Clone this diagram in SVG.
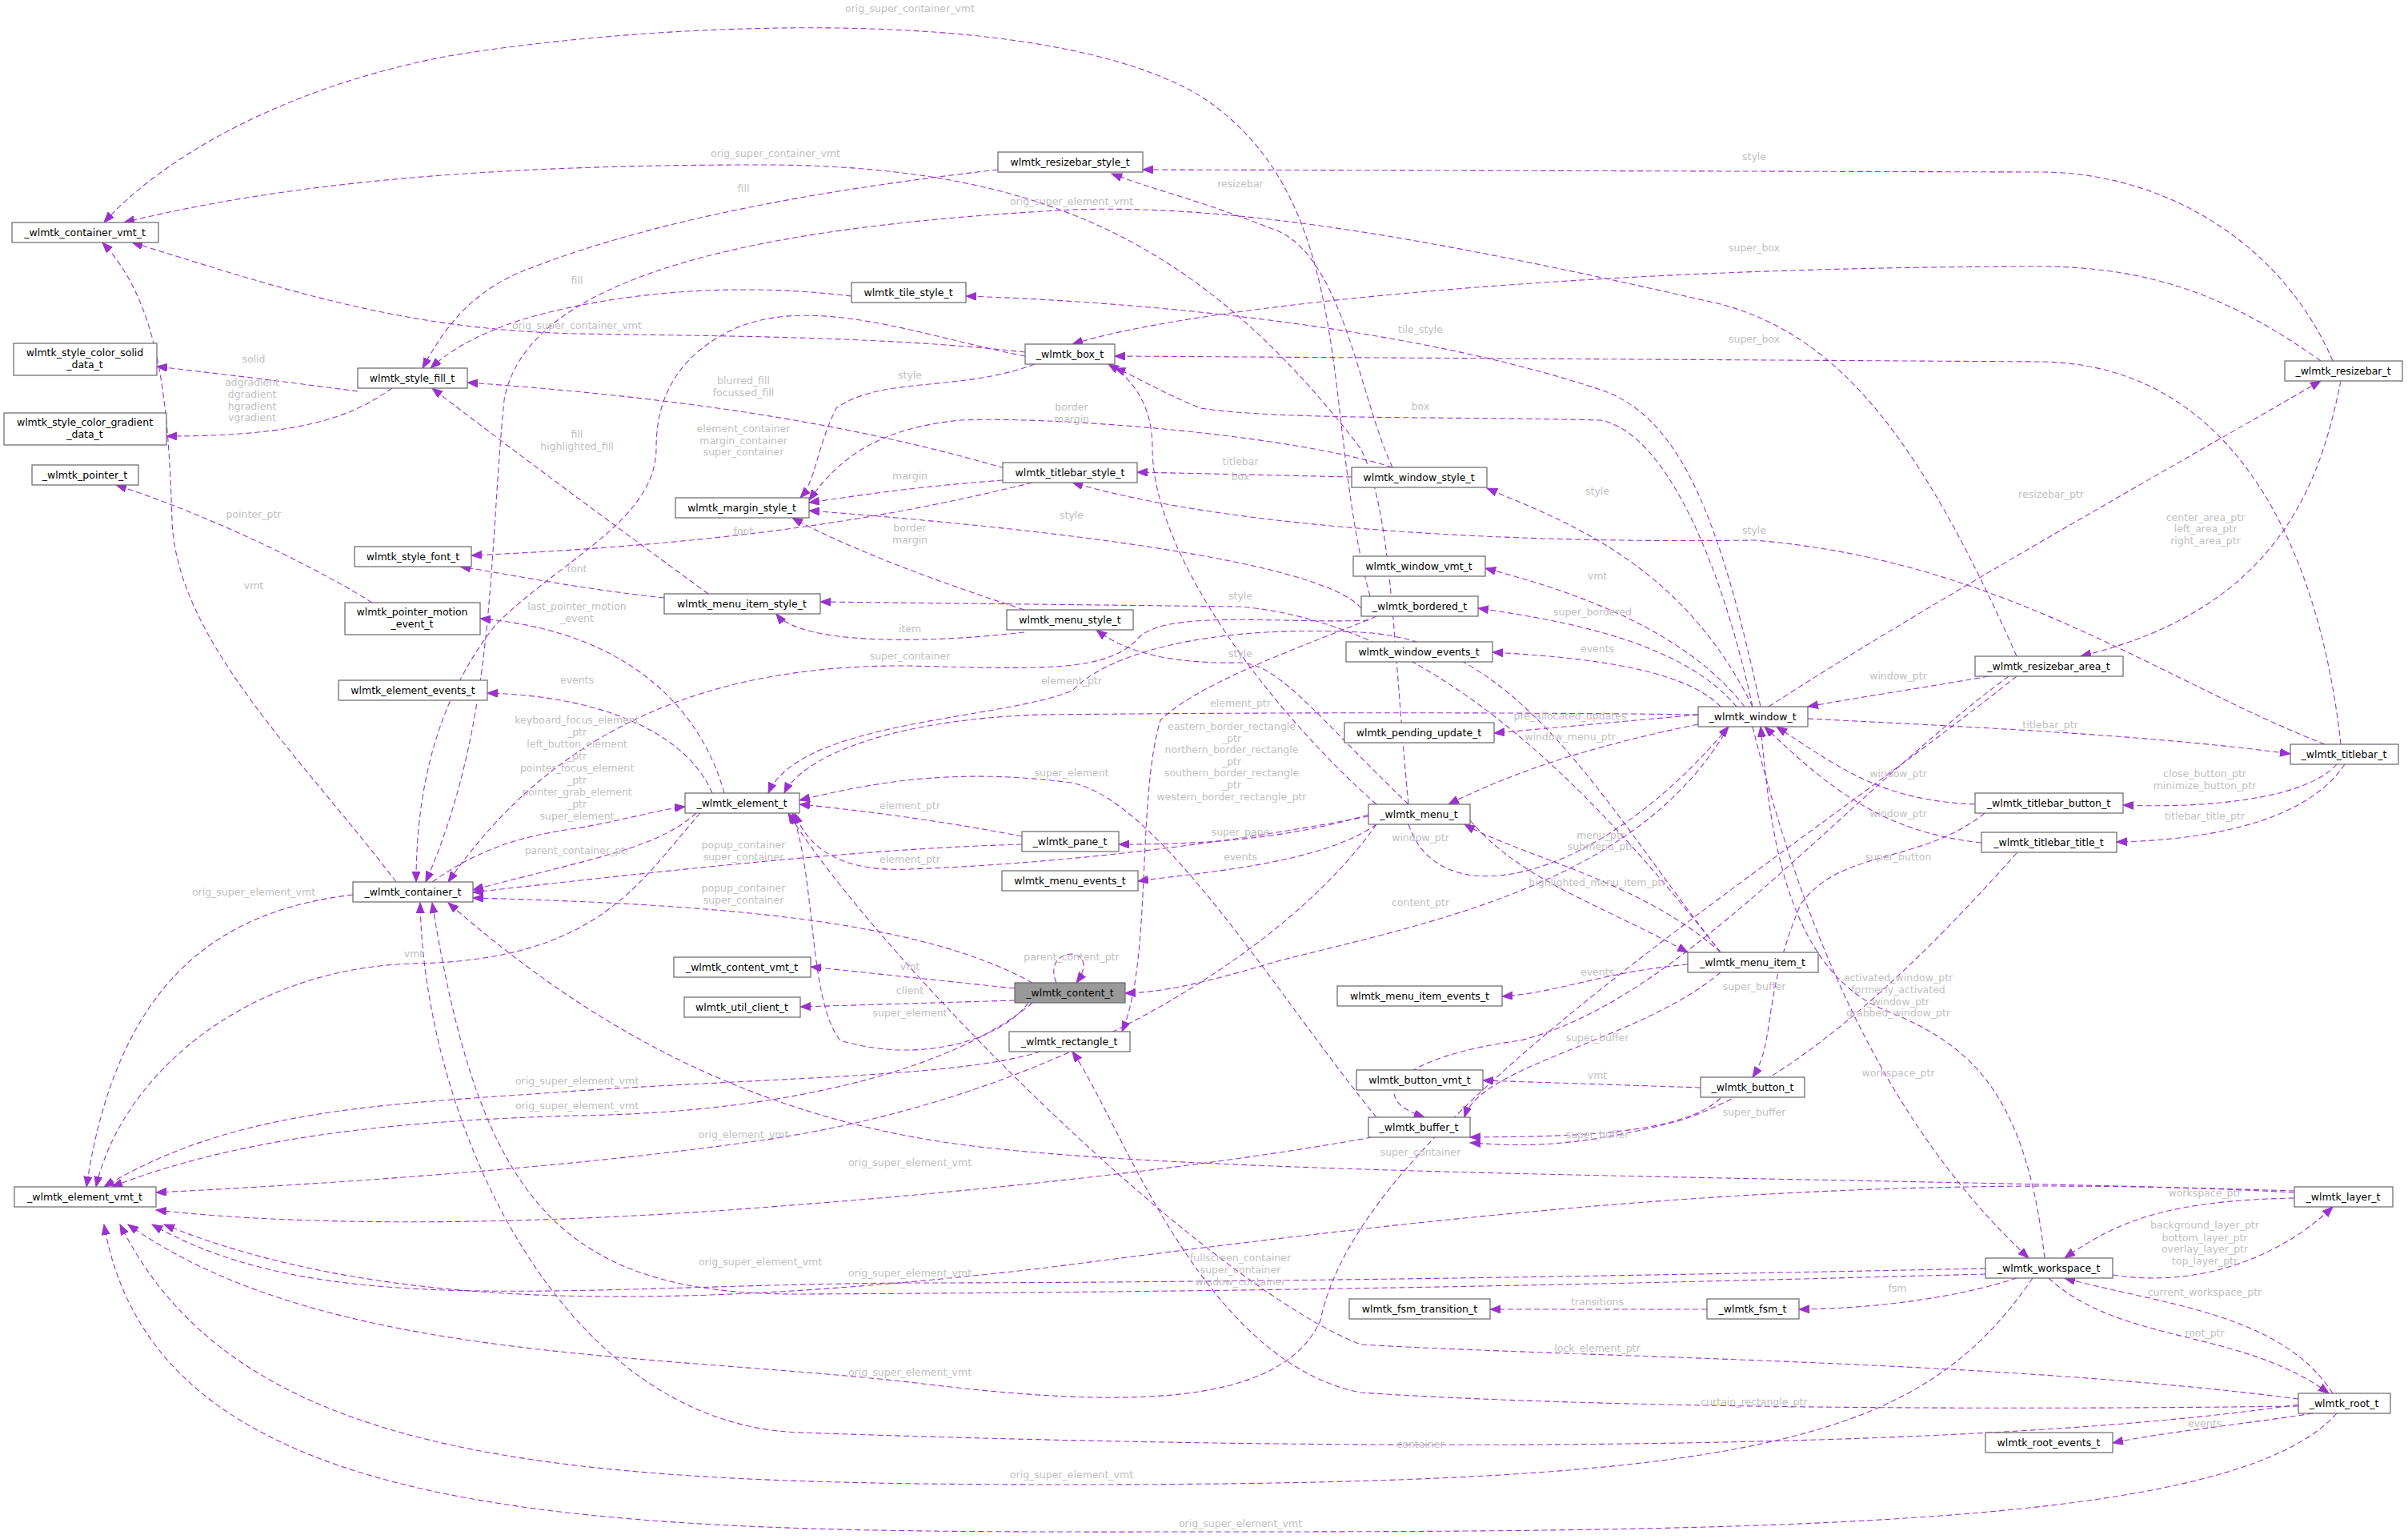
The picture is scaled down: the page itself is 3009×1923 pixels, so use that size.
<svg xmlns="http://www.w3.org/2000/svg" width="3009" height="1923" viewBox="0 0 3009 1923">
<style>
.n rect{fill:#fff;stroke:#666;stroke-width:1.2}
.n text,.l text{font-family:"DejaVu Sans",sans-serif;font-size:12.5px;text-anchor:middle}
.n text{fill:#000}
.l text{fill:#c0c0c0}
#edges path{fill:none;stroke:#9a32cd;stroke-width:1.1;stroke-dasharray:7,4;marker-end:url(#a)}
</style>
<defs><marker id="a" markerUnits="userSpaceOnUse" markerWidth="14" markerHeight="12" refX="13" refY="5" orient="auto"><path d="M0,0L13,5L0,10z" fill="#9a32cd" stroke="#9a32cd"/></marker></defs>
<rect width="3009" height="1923" fill="#fff"/>
<g id="edges">
<path d="M1712,745 C1650,520 1700,250 1500,120 C1300,0 800,30 560,70 C350,110 200,200 130,278"/>
<path d="M1760,1005 C1740,800 1740,640 1700,560 C1500,300 1300,210 969,206 C600,205 350,230 155,278"/>
<path d="M1281,440 C1100,420 900,420 721,417 C500,412 350,360 165,303"/>
<path d="M1247,212 C1000,240 800,280 650,340 C580,370 550,420 528,460"/>
<path d="M1064,370 C900,350 750,370 650,400 C590,420 560,440 538,460"/>
<path d="M447,489 C380,480 300,470 196,458"/>
<path d="M490,485 C440,520 380,545 208,545"/>
<path d="M1255,585 C1100,540 900,500 584,478"/>
<path d="M885,742 C800,680 650,570 540,485"/>
<path d="M1281,445 C1150,420 1000,360 900,420 C830,460 820,520 820,560 C820,650 700,700 620,780 C540,880 520,1000 520,1102"/>
<path d="M465,753 C380,700 250,640 145,606"/>
<path d="M1290,603 C1100,650 900,680 589,694"/>
<path d="M830,747 C720,735 650,720 575,708"/>
<path d="M495,1102 C380,950 220,800 215,650 C210,500 200,380 128,303"/>
<path d="M905,991 C880,900 800,790 600,773"/>
<path d="M890,991 C860,920 760,870 609,866"/>
<path d="M540,1102 C600,1060 650,1045 720,1035 C780,1025 820,1012 856,1008"/>
<path d="M441,1118 C300,1135 150,1200 108,1483"/>
<path d="M870,1016 C820,1060 750,1070 591,1112"/>
<path d="M875,1016 C800,1100 750,1200 517,1204 C300,1210 150,1350 120,1483"/>
<path d="M1277,1055 C1100,1060 900,1080 591,1115"/>
<path d="M1290,1228 C1150,1150 900,1130 591,1122"/>
<path d="M1300,1314 C1200,1345 1000,1345 721,1363 C500,1380 300,1380 130,1483"/>
<path d="M1290,1253 C1200,1330 1000,1390 721,1394 C500,1400 300,1420 140,1483"/>
<path d="M1720,1030 C1600,1200 1300,1380 929,1428 C700,1460 400,1480 195,1490"/>
<path d="M1714,1421 C1500,1460 1200,1490 1000,1505 C700,1530 400,1535 195,1512"/>
<path d="M2867,1490 C2300,1460 1800,1520 1300,1585 C900,1630 500,1650 205,1530"/>
<path d="M2481,1585 C2000,1595 1500,1603 1137,1603 C700,1606 400,1650 190,1530"/>
<path d="M2481,1592 C2000,1605 1600,1614 1000,1617 C700,1618 600,1500 540,1128"/>
<path d="M2520,845 C2200,1100 1700,1400 1650,1650 C1600,1760 1400,1760 1137,1727 C800,1690 400,1700 160,1530"/>
<path d="M2872,1755 C2500,1810 1775,1817 1000,1790 C700,1780 530,1400 525,1128"/>
<path d="M2540,1597 C2400,1800 2200,1855 1339,1855 C700,1855 300,1830 150,1530"/>
<path d="M2920,1766 C2800,1900 2300,1914 1550,1914 C800,1914 200,1930 130,1530"/>
<path d="M2872,1757 C2500,1762 2000,1760 1700,1740 C1500,1700 1400,1400 1340,1314"/>
<path d="M2872,1748 C2500,1700 2000,1697 1700,1680 C1500,1600 1100,1200 985,1016"/>
<path d="M2560,1597 C2650,1680 2800,1660 2910,1741"/>
<path d="M2915,1741 C2850,1640 2700,1630 2580,1597"/>
<path d="M2890,1766 C2800,1780 2700,1790 2640,1803"/>
<path d="M2520,1597 C2450,1620 2350,1635 2248,1636"/>
<path d="M2133,1636 L1862,1636"/>
<path d="M2640,1593 C2750,1610 2850,1570 2915,1508"/>
<path d="M2867,1497 C2700,1500 2640,1530 2580,1572"/>
<path d="M2190,908 C2250,1150 2350,1400 2535,1572"/>
<path d="M2555,1572 C2530,1350 2450,1300 2350,1260 C2220,1200 2210,1000 2200,908"/>
<path d="M2867,1488 C2300,1470 1500,1470 1200,1430 C900,1390 700,1250 560,1128"/>
<path d="M2150,1372 C2100,1420 1950,1420 1837,1421"/>
<path d="M2520,1066 C2400,1200 2250,1350 2100,1400 C1950,1440 1880,1430 1837,1428"/>
<path d="M2150,1215 C2050,1300 1850,1330 1830,1396"/>
<path d="M2510,845 C2300,1000 2100,1250 1900,1300 C1750,1320 1700,1370 1780,1396"/>
<path d="M2480,1016 C2400,1080 2300,1060 2250,1130 C2200,1250 2220,1300 2190,1346"/>
<path d="M2125,1359 L1853,1350"/>
<path d="M2468,1005 C2350,1000 2300,960 2220,908"/>
<path d="M2476,1053 C2350,1040 2280,980 2205,908"/>
<path d="M2920,955 C2880,1000 2750,1010 2653,1006"/>
<path d="M2930,955 C2880,1030 2750,1050 2645,1052"/>
<path d="M2259,898 C2500,910 2700,920 2862,942"/>
<path d="M2485,845 C2400,860 2330,870 2259,883"/>
<path d="M2210,883 C2400,760 2650,620 2900,476"/>
<path d="M2925,476 C2900,600 2850,760 2600,820"/>
<path d="M2915,451 C2850,300 2700,215 2550,215 L1428,212"/>
<path d="M2900,451 C2800,380 2700,333 2550,333 C2000,333 1500,380 1340,430"/>
<path d="M2925,930 C2900,700 2800,455 2550,452 L1393,445"/>
<path d="M2905,930 C2700,850 2500,700 2192,675 C1800,680 1500,650 1340,603"/>
<path d="M1740,584 C1700,500 1680,330 1600,290 C1500,250 1450,240 1389,217"/>
<path d="M2520,820 C2400,550 2300,420 2150,380 C1800,300 1550,255 1339,262 C1000,280 660,330 630,500 C610,700 620,900 532,1102"/>
<path d="M2200,883 C2150,650 2100,520 2000,487 C1800,420 1500,380 1207,370"/>
<path d="M2190,883 C2150,700 2080,540 2000,525 C1800,520 1600,525 1500,510 C1450,490 1420,470 1393,460"/>
<path d="M1720,1005 C1600,900 1440,700 1440,560 C1440,500 1410,470 1385,455"/>
<path d="M1720,770 C1650,800 1500,850 1450,900 C1420,1000 1440,1200 1402,1289"/>
<path d="M1293,455 C1200,490 1100,470 1045,510 C1020,560 1020,600 1000,622"/>
<path d="M1740,584 C1600,540 1300,520 1200,525 C1100,535 1050,570 1011,625"/>
<path d="M1253,600 C1150,608 1100,615 1011,628"/>
<path d="M1701,760 C1650,700 1300,660 1011,638"/>
<path d="M1280,762 C1150,720 1050,680 990,647"/>
<path d="M2150,1190 C2000,1000 1800,780 1550,758 L1025,752"/>
<path d="M1280,790 C1150,805 1000,805 970,767"/>
<path d="M1710,775 C1600,780 1450,760 1420,800 C1380,840 1300,836 1137,832 C900,830 700,900 560,1102"/>
<path d="M1760,1005 C1650,900 1600,830 1550,828 C1450,830 1400,810 1370,787"/>
<path d="M2122,893 C1900,890 1600,890 1300,893 C1100,900 1000,950 980,991"/>
<path d="M2150,1190 C2000,1000 1900,800 1700,790 C1500,780 1380,820 1340,863 C1250,900 1000,900 960,991"/>
<path d="M1720,1396 C1600,1250 1450,1000 1339,978 C1200,960 1100,975 999,1000"/>
<path d="M1285,1253 C1250,1300 1150,1330 1050,1300 C1010,1250 1020,1100 990,1016"/>
<path d="M1277,1045 C1200,1030 1100,1015 999,1005"/>
<path d="M1710,1020 C1500,1060 1300,1080 1137,1086 C1050,1090 1010,1060 993,1016"/>
<path d="M1710,1018 C1600,1050 1500,1055 1398,1055"/>
<path d="M2122,905 C2000,930 1900,960 1810,1005"/>
<path d="M1760,1030 C1800,1150 2000,1100 2160,908"/>
<path d="M1720,1030 C1650,1080 1500,1090 1422,1101"/>
<path d="M2150,1190 C2050,1100 1900,1070 1830,1030"/>
<path d="M1837,1025 C1900,1100 2000,1130 2109,1190"/>
<path d="M2160,908 C2050,1100 1800,1150 1600,1200 C1500,1230 1450,1240 1406,1241"/>
<path d="M1320,1228 C1300,1180 1380,1180 1345,1228"/>
<path d="M1268,1235 L1013,1208"/>
<path d="M1268,1250 L1000,1258"/>
<path d="M2109,1205 C2000,1215 1950,1240 1877,1245"/>
<path d="M2190,883 C2100,700 1950,650 1858,610"/>
<path d="M2180,883 C2100,780 1950,735 1856,710"/>
<path d="M2170,883 C2100,800 1950,775 1847,760"/>
<path d="M2150,883 C2100,830 1950,820 1865,815"/>
<path d="M2122,893 L1867,916"/>
<path d="M1689,596 L1421,590"/>
</g>
<g class="l">
<text x="1137" y="15">orig_super_container_vmt</text>
<text x="969" y="196">orig_super_container_vmt</text>
<text x="929" y="240">fill</text>
<text x="721" y="355">fill</text>
<text x="721" y="411">orig_super_container_vmt</text>
<text x="317" y="453">solid</text>
<text x="315" y="482">adgradient</text><text x="315" y="497">dgradient</text><text x="315" y="512">hgradient</text><text x="315" y="526">vgradient</text>
<text x="929" y="480">blurred_fill</text><text x="929" y="495">focussed_fill</text>
<text x="721" y="547">fill</text><text x="721" y="562">highlighted_fill</text>
<text x="929" y="540">element_container</text><text x="929" y="555">margin_container</text><text x="929" y="569">super_container</text>
<text x="317" y="647">pointer_ptr</text>
<text x="929" y="668">font</text>
<text x="721" y="715">font</text>
<text x="317" y="736">vmt</text>
<text x="721" y="762">last_pointer_motion</text><text x="721" y="777">_event</text>
<text x="721" y="854">events</text>
<text x="721" y="904">keyboard_focus_element</text><text x="721" y="919">_ptr</text><text x="721" y="934">left_button_element</text><text x="721" y="949">_ptr</text><text x="721" y="964">pointer_focus_element</text><text x="721" y="979">_ptr</text><text x="721" y="994">pointer_grab_element</text><text x="721" y="1009">_ptr</text><text x="721" y="1024">super_element</text>
<text x="1550" y="234">resizebar</text>
<text x="1339" y="256">orig_super_element_vmt</text>
<text x="1775" y="416">tile_style</text>
<text x="1137" y="473">style</text>
<text x="1775" y="512">box</text>
<text x="1339" y="513">border</text><text x="1339" y="528">margin</text>
<text x="1550" y="581">titlebar</text><text x="1550" y="600">box</text>
<text x="1137" y="599">margin</text>
<text x="1339" y="648">style</text>
<text x="1137" y="664">border</text><text x="1137" y="679">margin</text>
<text x="1550" y="749">style</text>
<text x="1137" y="790">item</text>
<text x="1137" y="824">super_container</text>
<text x="1550" y="821">style</text>
<text x="1339" y="855">element_ptr</text>
<text x="1550" y="883">element_ptr</text>
<text x="1539" y="912">eastern_border_rectangle</text><text x="1539" y="927">_ptr</text><text x="1539" y="941">northern_border_rectangle</text><text x="1539" y="956">_ptr</text><text x="1539" y="970">southern_border_rectangle</text><text x="1539" y="985">_ptr</text><text x="1539" y="1000">western_border_rectangle_ptr</text>
<text x="2192" y="200">style</text>
<text x="2192" y="314">super_box</text>
<text x="2192" y="428">super_box</text>
<text x="1996" y="618">style</text>
<text x="2563" y="622">resizebar_ptr</text>
<text x="2756" y="651">center_area_ptr</text><text x="2756" y="665">left_area_ptr</text><text x="2756" y="680">right_area_ptr</text>
<text x="2192" y="667">style</text>
<text x="1996" y="724">vmt</text>
<text x="1990" y="769">super_bordered</text>
<text x="1996" y="815">events</text>
<text x="2372" y="849">window_ptr</text>
<text x="1962" y="899">pre_allocated_updates</text>
<text x="2562" y="910">titlebar_ptr</text>
<text x="1962" y="925">window_menu_ptr</text>
<text x="1339" y="970">super_element</text>
<text x="1137" y="1011">element_ptr</text>
<text x="1550" y="1044">super_pane</text>
<text x="1775" y="1051">window_ptr</text>
<text x="1137" y="1078">element_ptr</text>
<text x="1550" y="1075">events</text>
<text x="2000" y="1048">menu_ptr</text><text x="2000" y="1062">submenu_ptr</text>
<text x="1996" y="1107">highlighted_menu_item_ptr</text>
<text x="1775" y="1132">content_ptr</text>
<text x="1339" y="1200">parent_content_ptr</text>
<text x="1137" y="1212">vmt</text>
<text x="1137" y="1242">client</text>
<text x="1137" y="1270">super_element</text>
<text x="1996" y="1219">events</text>
<text x="1996" y="1301">super_buffer</text>
<text x="1996" y="1348">vmt</text>
<text x="1996" y="1422">super_buffer</text>
<text x="1775" y="1444">super_container</text>
<text x="1137" y="1457">orig_super_element_vmt</text>
<text x="1550" y="1576">fullscreen_container</text><text x="1550" y="1591">super_container</text><text x="1550" y="1606">window_container</text>
<text x="1137" y="1595">orig_super_element_vmt</text>
<text x="1996" y="1631">transitions</text>
<text x="1996" y="1689">lock_element_ptr</text>
<text x="1137" y="1719">orig_super_element_vmt</text>
<text x="1775" y="1809">container</text>
<text x="1339" y="1847">orig_super_element_vmt</text>
<text x="1550" y="1908">orig_super_element_vmt</text>
<text x="317" y="1119">orig_super_element_vmt</text>
<text x="721" y="1067">parent_container_ptr</text>
<text x="929" y="1060">popup_container</text><text x="929" y="1075">super_container</text>
<text x="929" y="1114">popup_container</text><text x="929" y="1129">super_container</text>
<text x="517" y="1196">vmt</text>
<text x="721" y="1355">orig_super_element_vmt</text>
<text x="721" y="1386">orig_super_element_vmt</text>
<text x="929" y="1422">orig_element_vmt</text>
<text x="950" y="1581">orig_super_element_vmt</text>
<text x="2372" y="971">window_ptr</text>
<text x="2755" y="971">close_button_ptr</text><text x="2755" y="986">minimize_button_ptr</text>
<text x="2372" y="1021">window_ptr</text>
<text x="2755" y="1024">titlebar_title_ptr</text>
<text x="2372" y="1075">super_button</text>
<text x="2192" y="1237">super_buffer</text>
<text x="2372" y="1226">activated_window_ptr</text><text x="2372" y="1241">formerly_activated</text><text x="2372" y="1256">_window_ptr</text><text x="2372" y="1270">grabbed_window_ptr</text>
<text x="2372" y="1345">workspace_ptr</text>
<text x="2192" y="1394">super_buffer</text>
<text x="2755" y="1495">workspace_ptr</text>
<text x="2755" y="1535">background_layer_ptr</text><text x="2755" y="1551">bottom_layer_ptr</text><text x="2755" y="1565">overlay_layer_ptr</text><text x="2755" y="1580">top_layer_ptr</text>
<text x="2371" y="1614">fsm</text>
<text x="2755" y="1619">current_workspace_ptr</text>
<text x="2755" y="1670">root_ptr</text>
<text x="2192" y="1756">curtain_rectangle_ptr</text>
<text x="2755" y="1783">events</text>
</g>
<g id="n_container_vmt" class="n"><rect x="15" y="278" width="183" height="25"/><text x="106" y="295">_wlmtk_container_vmt_t</text></g>
<g id="n_solid" class="n"><rect x="17" y="429" width="179" height="40"/><text x="106" y="445">wlmtk_style_color_solid</text><text x="106" y="460">_data_t</text></g>
<g id="n_gradient" class="n"><rect x="5" y="516" width="203" height="40"/><text x="106" y="532">wlmtk_style_color_gradient</text><text x="106" y="547">_data_t</text></g>
<g id="n_pointer" class="n"><rect x="40" y="581" width="133" height="25"/><text x="106" y="598">_wlmtk_pointer_t</text></g>
<g id="n_fill" class="n"><rect x="447" y="460" width="137" height="25"/><text x="515" y="477">wlmtk_style_fill_t</text></g>
<g id="n_margin" class="n"><rect x="844" y="622" width="167" height="25"/><text x="927" y="639">wlmtk_margin_style_t</text></g>
<g id="n_font" class="n"><rect x="443" y="683" width="146" height="25"/><text x="516" y="700">wlmtk_style_font_t</text></g>
<g id="n_menu_item_style" class="n"><rect x="830" y="742" width="195" height="25"/><text x="927" y="759">wlmtk_menu_item_style_t</text></g>
<g id="n_pointer_motion" class="n"><rect x="431" y="753" width="169" height="40"/><text x="515" y="769">wlmtk_pointer_motion</text><text x="515" y="784">_event_t</text></g>
<g id="n_element_events" class="n"><rect x="423" y="850" width="186" height="25"/><text x="516" y="867">wlmtk_element_events_t</text></g>
<g id="n_resizebar_style" class="n"><rect x="1247" y="190" width="181" height="25"/><text x="1337" y="207">wlmtk_resizebar_style_t</text></g>
<g id="n_tile_style" class="n"><rect x="1064" y="353" width="143" height="25"/><text x="1135" y="370">wlmtk_tile_style_t</text></g>
<g id="n_box" class="n"><rect x="1281" y="430" width="112" height="25"/><text x="1337" y="447">_wlmtk_box_t</text></g>
<g id="n_titlebar_style" class="n"><rect x="1253" y="578" width="168" height="25"/><text x="1337" y="595">wlmtk_titlebar_style_t</text></g>
<g id="n_window_style" class="n"><rect x="1689" y="584" width="169" height="25"/><text x="1773" y="601">wlmtk_window_style_t</text></g>
<g id="n_window_vmt" class="n"><rect x="1691" y="695" width="165" height="25"/><text x="1773" y="712">wlmtk_window_vmt_t</text></g>
<g id="n_bordered" class="n"><rect x="1701" y="745" width="146" height="25"/><text x="1774" y="762">_wlmtk_bordered_t</text></g>
<g id="n_menu_style" class="n"><rect x="1258" y="762" width="158" height="25"/><text x="1337" y="779">wlmtk_menu_style_t</text></g>
<g id="n_window_events" class="n"><rect x="1682" y="802" width="183" height="25"/><text x="1773" y="819">wlmtk_window_events_t</text></g>
<g id="n_pending" class="n"><rect x="1680" y="903" width="187" height="25"/><text x="1773" y="920">wlmtk_pending_update_t</text></g>
<g id="n_resizebar" class="n"><rect x="2855" y="451" width="147" height="25"/><text x="2928" y="468">_wlmtk_resizebar_t</text></g>
<g id="n_resizebar_area" class="n"><rect x="2468" y="820" width="185" height="25"/><text x="2560" y="837">_wlmtk_resizebar_area_t</text></g>
<g id="n_window" class="n"><rect x="2122" y="883" width="137" height="25"/><text x="2190" y="900">_wlmtk_window_t</text></g>
<g id="n_titlebar" class="n"><rect x="2862" y="930" width="135" height="25"/><text x="2929" y="947">_wlmtk_titlebar_t</text></g>
<g id="n_element" class="n"><rect x="856" y="991" width="143" height="25"/><text x="927" y="1008">_wlmtk_element_t</text></g>
<g id="n_container" class="n"><rect x="441" y="1102" width="150" height="25"/><text x="516" y="1119">_wlmtk_container_t</text></g>
<g id="n_content_vmt" class="n"><rect x="842" y="1196" width="171" height="25"/><text x="927" y="1213">_wlmtk_content_vmt_t</text></g>
<g id="n_util_client" class="n"><rect x="855" y="1246" width="145" height="25"/><text x="927" y="1263">wlmtk_util_client_t</text></g>
<g id="n_element_vmt" class="n"><rect x="18" y="1483" width="177" height="25"/><text x="106" y="1500">_wlmtk_element_vmt_t</text></g>
<g id="n_menu" class="n"><rect x="1710" y="1005" width="127" height="25"/><text x="1773" y="1022">_wlmtk_menu_t</text></g>
<g id="n_pane" class="n"><rect x="1277" y="1039" width="121" height="25"/><text x="1337" y="1056">_wlmtk_pane_t</text></g>
<g id="n_menu_events" class="n"><rect x="1252" y="1088" width="170" height="25"/><text x="1337" y="1105">wlmtk_menu_events_t</text></g>
<g id="n_content" class="n"><rect x="1268" y="1228" width="138" height="25" style="fill:#999"/><text x="1337" y="1245">_wlmtk_content_t</text></g>
<g id="n_menu_item_events" class="n"><rect x="1671" y="1232" width="206" height="25"/><text x="1774" y="1249">wlmtk_menu_item_events_t</text></g>
<g id="n_rectangle" class="n"><rect x="1261" y="1289" width="151" height="25"/><text x="1336" y="1306">_wlmtk_rectangle_t</text></g>
<g id="n_button_vmt" class="n"><rect x="1695" y="1337" width="158" height="25"/><text x="1774" y="1354">wlmtk_button_vmt_t</text></g>
<g id="n_buffer" class="n"><rect x="1710" y="1396" width="127" height="25"/><text x="1773" y="1413">_wlmtk_buffer_t</text></g>
<g id="n_fsm_transition" class="n"><rect x="1686" y="1623" width="176" height="25"/><text x="1774" y="1640">wlmtk_fsm_transition_t</text></g>
<g id="n_titlebar_button" class="n"><rect x="2468" y="991" width="185" height="25"/><text x="2560" y="1008">_wlmtk_titlebar_button_t</text></g>
<g id="n_titlebar_title" class="n"><rect x="2476" y="1040" width="169" height="25"/><text x="2560" y="1057">_wlmtk_titlebar_title_t</text></g>
<g id="n_menu_item" class="n"><rect x="2109" y="1190" width="163" height="25"/><text x="2190" y="1207">_wlmtk_menu_item_t</text></g>
<g id="n_button" class="n"><rect x="2125" y="1346" width="130" height="25"/><text x="2190" y="1363">_wlmtk_button_t</text></g>
<g id="n_layer" class="n"><rect x="2867" y="1483" width="123" height="25"/><text x="2928" y="1500">_wlmtk_layer_t</text></g>
<g id="n_workspace" class="n"><rect x="2481" y="1572" width="159" height="25"/><text x="2560" y="1589">_wlmtk_workspace_t</text></g>
<g id="n_fsm" class="n"><rect x="2133" y="1623" width="115" height="25"/><text x="2190" y="1640">_wlmtk_fsm_t</text></g>
<g id="n_root" class="n"><rect x="2872" y="1741" width="115" height="25"/><text x="2929" y="1758">_wlmtk_root_t</text></g>
<g id="n_root_events" class="n"><rect x="2481" y="1790" width="159" height="25"/><text x="2560" y="1807">wlmtk_root_events_t</text></g>
</svg>
